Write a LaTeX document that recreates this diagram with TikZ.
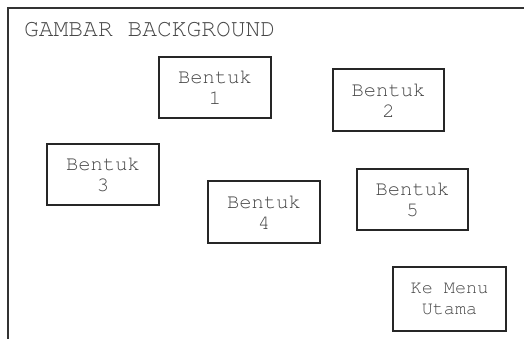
\documentclass[tikz,border=0pt]{standalone}
\usepackage[T1]{fontenc}
\renewcommand\ttdefault{pcr}
\begin{document}
\begin{tikzpicture}[x=1pt,y=-1pt,
  frameline/.style={line width=1.6pt,draw=black!80},
  shapebox/.style={draw=black!85,line width=1.3pt,inner sep=0pt,
    align=center,text=black!72,font=\ttfamily\fontsize{20.5}{21}\selectfont},
  menubox/.style={shapebox,font=\ttfamily\fontsize{18.5}{21}\selectfont},
  titletext/.style={inner sep=0pt,anchor=base west,text=black!72,
    font=\ttfamily\fontsize{24.6}{26}\selectfont}]
  \useasboundingbox (0,0) rectangle (524,338);
  \fill[white] (0,0) rectangle (524,338);

  % outer frame, open on the right and at the bottom
  \coordinate (fbl) at (8,342);
  \coordinate (ftl) at (8,8);
  \coordinate (ftr) at (528,8);
  \draw[frameline] (fbl) -- (ftl) -- (ftr);

  \node[titletext] (title) at (24,36) {GAMBAR BACKGROUND};

  \node[shapebox,minimum width=112,minimum height=61] (b1) at (215,87.5) {Bentuk\\1};
  \node[shapebox,minimum width=111,minimum height=62] (b2) at (388.5,100) {Bentuk\\2};
  \node[shapebox,minimum width=112,minimum height=61] (b3) at (103,174.5) {Bentuk\\3};
  \node[shapebox,minimum width=112,minimum height=62] (b4) at (264,212) {Bentuk\\4};
  \node[shapebox,minimum width=111,minimum height=61] (b5) at (412.5,199.5) {Bentuk\\5};
  \node[menubox,minimum width=113,minimum height=64] (menu) at (449.5,299) {Ke Menu\\Utama};
\end{tikzpicture}
\end{document}
